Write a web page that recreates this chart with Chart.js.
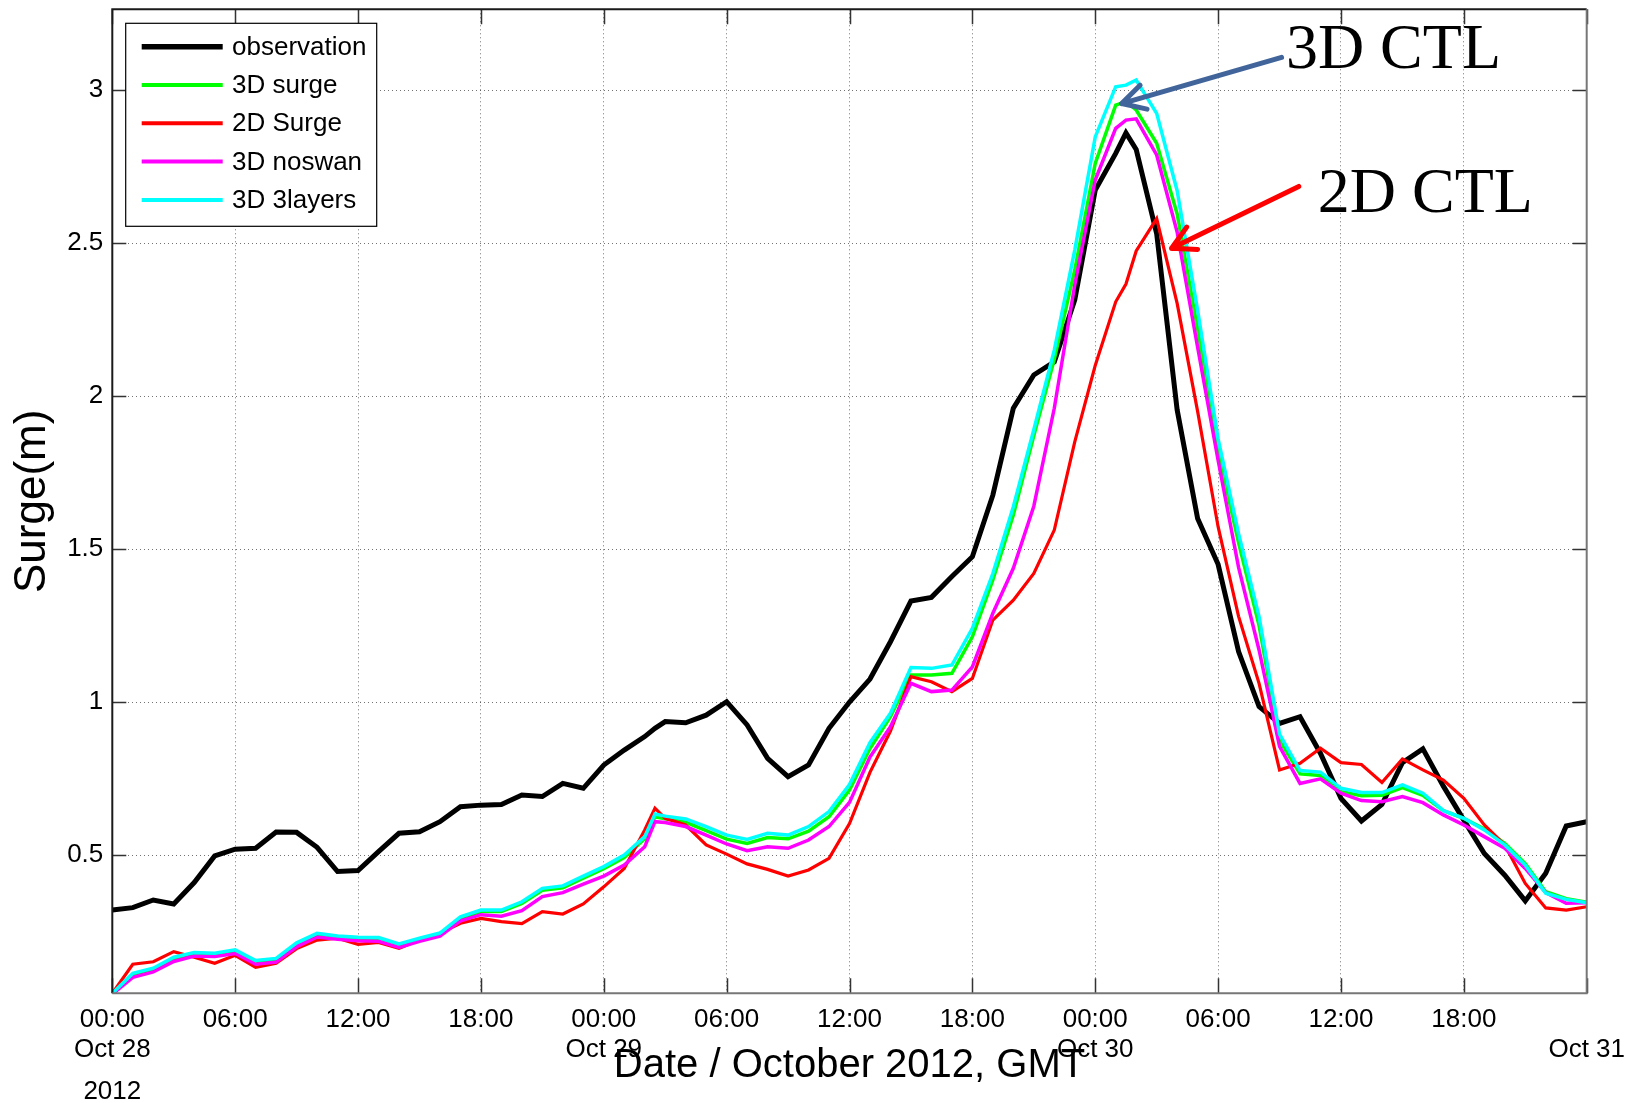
<!DOCTYPE html>
<html>
<head>
<meta charset="utf-8">
<title>Surge - October 2012</title>
<script src="https://cdn.jsdelivr.net/npm/chart.js@4.4.1/dist/chart.umd.min.js"></script>
<style>
  html, body { margin: 0; padding: 0; background: #fff; }
  #surgeChart { display: block; }
</style>
</head>
<body>
<canvas id="surgeChart" width="1637" height="1103"></canvas>
<script>
// hours since 00:00 Oct 28 2012 (GMT)
const hours = [
  0, 1, 2, 3, 4, 5, 6, 7, 8, 9, 10, 11, 12, 13, 14, 15, 16, 17, 18, 19, 20, 21, 22, 23, 24, 25, 26, 26.5,
  27, 28, 29, 30, 31, 32, 33, 34, 35, 36, 37, 38, 39, 40, 41, 42, 43, 44, 45, 46, 47, 48, 49, 49.5,
  50, 51, 52, 53, 54, 55, 56, 57, 58, 59, 60, 61, 62, 63, 64, 65, 66, 67, 68, 69, 70, 71, 72
];

const observation = [
  0.32, 0.328, 0.353, 0.34, 0.41, 0.497, 0.519, 0.522, 0.575, 0.574, 0.525, 0.446, 0.449, 0.511, 0.571, 0.576, 0.609, 0.658, 0.663, 0.665, 0.696, 0.691, 0.734, 0.718, 0.794, 0.843, 0.887, 0.914,
  0.936, 0.932, 0.957, 1.001, 0.925, 0.816, 0.756, 0.794, 0.914, 1.0, 1.075, 1.197, 1.33, 1.342, 1.41, 1.475, 1.676, 1.96, 2.069, 2.112, 2.314, 2.673, 2.793, 2.86,
  2.806, 2.531, 1.955, 1.6, 1.45, 1.165, 0.985, 0.93, 0.952, 0.832, 0.685, 0.611, 0.665, 0.802, 0.847, 0.725, 0.614, 0.505, 0.434, 0.35, 0.44, 0.595, 0.609
];

const surge3D = [
  0.048, 0.108, 0.126, 0.161, 0.177, 0.175, 0.186, 0.151, 0.158, 0.208, 0.24, 0.231, 0.227, 0.226, 0.205, 0.224, 0.241, 0.293, 0.315, 0.315, 0.342, 0.385, 0.393, 0.424, 0.455, 0.492, 0.553, 0.625,
  0.618, 0.607, 0.58, 0.552, 0.538, 0.557, 0.553, 0.578, 0.625, 0.712, 0.848, 0.952, 1.088, 1.088, 1.094, 1.213, 1.399, 1.611, 1.87, 2.12, 2.412, 2.76, 2.951, 2.962,
  2.935, 2.826, 2.595, 2.22, 1.82, 1.52, 1.25, 0.875, 0.765, 0.76, 0.707, 0.694, 0.695, 0.72, 0.695, 0.645, 0.62, 0.585, 0.538, 0.472, 0.38, 0.357, 0.346
];

const surge2D = [
  0.048, 0.143, 0.151, 0.184, 0.166, 0.146, 0.172, 0.133, 0.146, 0.194, 0.222, 0.228, 0.208, 0.214, 0.195, 0.222, 0.244, 0.277, 0.293, 0.282, 0.276, 0.315, 0.307, 0.34, 0.396, 0.456, 0.582, 0.653,
  0.62, 0.598, 0.533, 0.503, 0.471, 0.453, 0.431, 0.451, 0.489, 0.603, 0.77, 0.905, 1.083, 1.066, 1.034, 1.077, 1.268, 1.333, 1.42, 1.562, 1.85, 2.1, 2.308, 2.366,
  2.474, 2.58, 2.303, 1.95, 1.573, 1.28, 1.061, 0.778, 0.8, 0.849, 0.802, 0.796, 0.737, 0.814, 0.778, 0.745, 0.685, 0.598, 0.533, 0.407, 0.327, 0.32, 0.331
];

const noswan3D = [
  0.045, 0.1, 0.118, 0.152, 0.17, 0.168, 0.178, 0.143, 0.15, 0.2, 0.232, 0.225, 0.22, 0.218, 0.198, 0.218, 0.235, 0.285, 0.305, 0.3, 0.318, 0.364, 0.377, 0.405, 0.431, 0.467, 0.527, 0.609,
  0.606, 0.593, 0.565, 0.536, 0.514, 0.527, 0.522, 0.549, 0.593, 0.672, 0.82, 0.919, 1.061, 1.034, 1.039, 1.115, 1.29, 1.437, 1.64, 1.96, 2.363, 2.706, 2.875, 2.902,
  2.906, 2.788, 2.536, 2.16, 1.79, 1.44, 1.17, 0.855, 0.734, 0.749, 0.702, 0.678, 0.674, 0.691, 0.671, 0.631, 0.598, 0.56, 0.522, 0.456, 0.377, 0.342, 0.344
];

const layers3D = [
  0.048, 0.113, 0.13, 0.166, 0.181, 0.179, 0.19, 0.155, 0.162, 0.213, 0.244, 0.235, 0.231, 0.23, 0.209, 0.228, 0.245, 0.298, 0.32, 0.32, 0.347, 0.391, 0.399, 0.431, 0.462, 0.5, 0.56, 0.634,
  0.627, 0.618, 0.593, 0.565, 0.551, 0.571, 0.565, 0.593, 0.642, 0.73, 0.867, 0.963, 1.113, 1.11, 1.121, 1.241, 1.42, 1.638, 1.89, 2.15, 2.477, 2.847, 3.011, 3.016,
  3.033, 2.924, 2.671, 2.28, 1.86, 1.55, 1.279, 0.895, 0.776, 0.771, 0.718, 0.704, 0.704, 0.729, 0.702, 0.645, 0.62, 0.582, 0.533, 0.467, 0.375, 0.355, 0.344
];

// axis ticks
const xTickValues = [0, 6, 12, 18, 24, 30, 36, 42, 48, 54, 60, 66, 72];
const xTimeLabels = ['00:00', '06:00', '12:00', '18:00', '00:00', '06:00', '12:00', '18:00', '00:00', '06:00', '12:00', '18:00', ''];
const xDateLabels = ['Oct 28', '', '', '', 'Oct 29', '', '', '', 'Oct 30', '', '', '', 'Oct 31'];
const yTickValues = [0.5, 1, 1.5, 2, 2.5, 3];
const yTickLabels = ['0.5', '1', '1.5', '2', '2.5', '3'];

// text call-outs (anchored in hours / metres)
const callouts = [
  { text: '3D CTL', color: '#41659a', textAt: [57.31, 3.072], from: [57.1, 3.107], to: [49.29, 2.956] },
  { text: '2D CTL', color: '#ff0000', textAt: [58.87, 2.601], from: [57.94, 2.685], to: [51.73, 2.483] }
];

const SANS = "'Liberation Sans', Arial, sans-serif";
const SERIF = "'Liberation Serif', 'Times New Roman', serif";

Chart.defaults.font.family = SANS;
Chart.defaults.color = '#000';

function series(label, values, color, width, order) {
  return {
    label: label,
    data: hours.map((h, i) => ({ x: h, y: values[i] })),
    borderColor: color,
    backgroundColor: color,
    borderWidth: width,
    pointRadius: 0,
    tension: 0,
    fill: false,
    order: order
  };
}

// box round the axes and the inward tick marks, like MATLAB
const axesFrame = {
  id: 'axesFrame',
  afterDatasetsDraw(chart) {
    const { ctx, chartArea: a, scales: { x, y } } = chart;
    ctx.save();
    ctx.strokeStyle = '#333';
    ctx.lineWidth = 1.5;
    ctx.beginPath();
    xTickValues.forEach(v => {
      const px = Math.round(x.getPixelForValue(v)) + 0.5;
      ctx.moveTo(px, a.bottom); ctx.lineTo(px, a.bottom - 15);
      ctx.moveTo(px, a.top); ctx.lineTo(px, a.top + 15);
    });
    yTickValues.forEach(v => {
      const py = Math.round(y.getPixelForValue(v)) + 0.5;
      ctx.moveTo(a.left, py); ctx.lineTo(a.left + 14, py);
      ctx.moveTo(a.right, py); ctx.lineTo(a.right - 14, py);
    });
    ctx.stroke();

    ctx.lineWidth = 2;
    ctx.strokeStyle = '#1a1a1a';
    ctx.beginPath();
    ctx.moveTo(a.left, a.bottom); ctx.lineTo(a.left, a.top); ctx.lineTo(a.right, a.top);
    ctx.stroke();
    ctx.strokeStyle = '#777';
    ctx.beginPath();
    ctx.moveTo(a.left, a.bottom); ctx.lineTo(a.right, a.bottom); ctx.lineTo(a.right, a.top);
    ctx.stroke();
    ctx.restore();
  }
};

// legend box, axis titles, year label and the arrows
const decorations = {
  id: 'decorations',
  afterDraw(chart) {
    const { ctx, chartArea: a, scales: { x, y } } = chart;
    ctx.save();

    // year under the first date
    ctx.font = '26px ' + SANS;
    ctx.fillStyle = '#000';
    ctx.textAlign = 'center';
    ctx.textBaseline = 'middle';
    ctx.fillText('2012', x.getPixelForValue(0), a.bottom + 99);

    // axis titles
    ctx.font = '40px ' + SANS;
    ctx.fillText('Date / October 2012, GMT', (a.left + a.right) / 2, a.bottom + 73);
    ctx.save();
    ctx.translate(33, (a.top + a.bottom) / 2);
    ctx.rotate(-Math.PI / 2);
    ctx.font = '44px ' + SANS;
    ctx.fillText('Surge(m)', 0, 0);
    ctx.restore();

    // legend
    const lx = a.left + 13.4, ly = a.top + 14, lw = 251, lh = 203;
    ctx.fillStyle = '#fff';
    ctx.fillRect(lx, ly, lw, lh);
    ctx.strokeStyle = '#000';
    ctx.lineWidth = 1.2;
    ctx.strokeRect(lx, ly, lw, lh);
    ctx.font = '26px ' + SANS;
    ctx.textAlign = 'left';
    ctx.textBaseline = 'middle';
    chart.data.datasets.forEach((ds, i) => {
      const ry = ly + 23.4 + i * 38.3;
      ctx.strokeStyle = ds.borderColor;
      ctx.lineWidth = i === 0 ? 5.5 : 4;
      ctx.beginPath();
      ctx.moveTo(lx + 16, ry); ctx.lineTo(lx + 97, ry);
      ctx.stroke();
      ctx.fillStyle = '#000';
      ctx.fillText(ds.label, lx + 106.3, ry + 1);
    });

    // call-outs
    callouts.forEach(c => {
      const x1 = x.getPixelForValue(c.from[0]), y1 = y.getPixelForValue(c.from[1]);
      const x2 = x.getPixelForValue(c.to[0]), y2 = y.getPixelForValue(c.to[1]);
      const ang = Math.atan2(y2 - y1, x2 - x1);
      const head = 26, spread = 0.5;
      ctx.strokeStyle = c.color;
      ctx.lineWidth = 5;
      ctx.lineCap = 'round';
      ctx.beginPath();
      ctx.moveTo(x1, y1); ctx.lineTo(x2, y2);
      ctx.moveTo(x2, y2);
      ctx.lineTo(x2 - head * Math.cos(ang - spread), y2 - head * Math.sin(ang - spread));
      ctx.moveTo(x2, y2);
      ctx.lineTo(x2 - head * Math.cos(ang + spread), y2 - head * Math.sin(ang + spread));
      ctx.stroke();

      ctx.font = '64px ' + SERIF;
      ctx.fillStyle = '#000';
      ctx.textAlign = 'left';
      ctx.textBaseline = 'alphabetic';
      ctx.fillText(c.text, x.getPixelForValue(c.textAt[0]), y.getPixelForValue(c.textAt[1]));
    });

    ctx.restore();
  }
};

const chart = new Chart(document.getElementById('surgeChart'), {
  type: 'line',
  data: {
    datasets: [
      series('observation', observation, '#000000', 5, 5),
      series('3D surge', surge3D, '#00ff00', 3.5, 4),
      series('2D Surge', surge2D, '#ff0000', 3.2, 3),
      series('3D noswan', noswan3D, '#ff00ff', 3.5, 2),
      series('3D 3layers', layers3D, '#00ffff', 3.5, 1)
    ]
  },
  options: {
    responsive: false,
    animation: false,
    devicePixelRatio: 1,
    events: [],
    layout: {
      padding: { left: 0, top: 9.3, right: 50.3, bottom: 0 }
    },
    plugins: {
      legend: { display: false },
      tooltip: { enabled: false }
    },
    scales: {
      x: {
        type: 'linear',
        min: 0,
        max: 72,
        afterBuildTicks: s => { s.ticks = xTickValues.map(v => ({ value: v })); },
        afterFit: s => { s.height = 109.7; },
        grid: { color: 'rgba(0,0,0,0.55)', lineWidth: 1, drawTicks: false },
        border: { display: false, dash: [1, 3] },
        ticks: {
          autoSkip: false,
          maxRotation: 0,
          padding: 12,
          font: { size: 26, lineHeight: '30px' },
          color: '#000',
          callback: (value, index) => [xTimeLabels[index], xDateLabels[index]]
        }
      },
      y: {
        type: 'linear',
        min: 0.048,
        max: 3.264,
        afterBuildTicks: s => { s.ticks = yTickValues.map(v => ({ value: v })); },
        // fixed width, and no extra room above/below for the end labels
        afterFit: s => { s.width = 112.3; s.paddingTop = 0; s.paddingBottom = 0; },
        grid: { color: 'rgba(0,0,0,0.55)', lineWidth: 1, drawTicks: false },
        border: { display: false, dash: [1, 3] },
        ticks: {
          padding: 9,
          font: { size: 26 },
          color: '#000',
          callback: (value, index) => yTickLabels[index]
        }
      }
    }
  },
  plugins: [axesFrame, decorations]
});
</script>
</body>
</html>
